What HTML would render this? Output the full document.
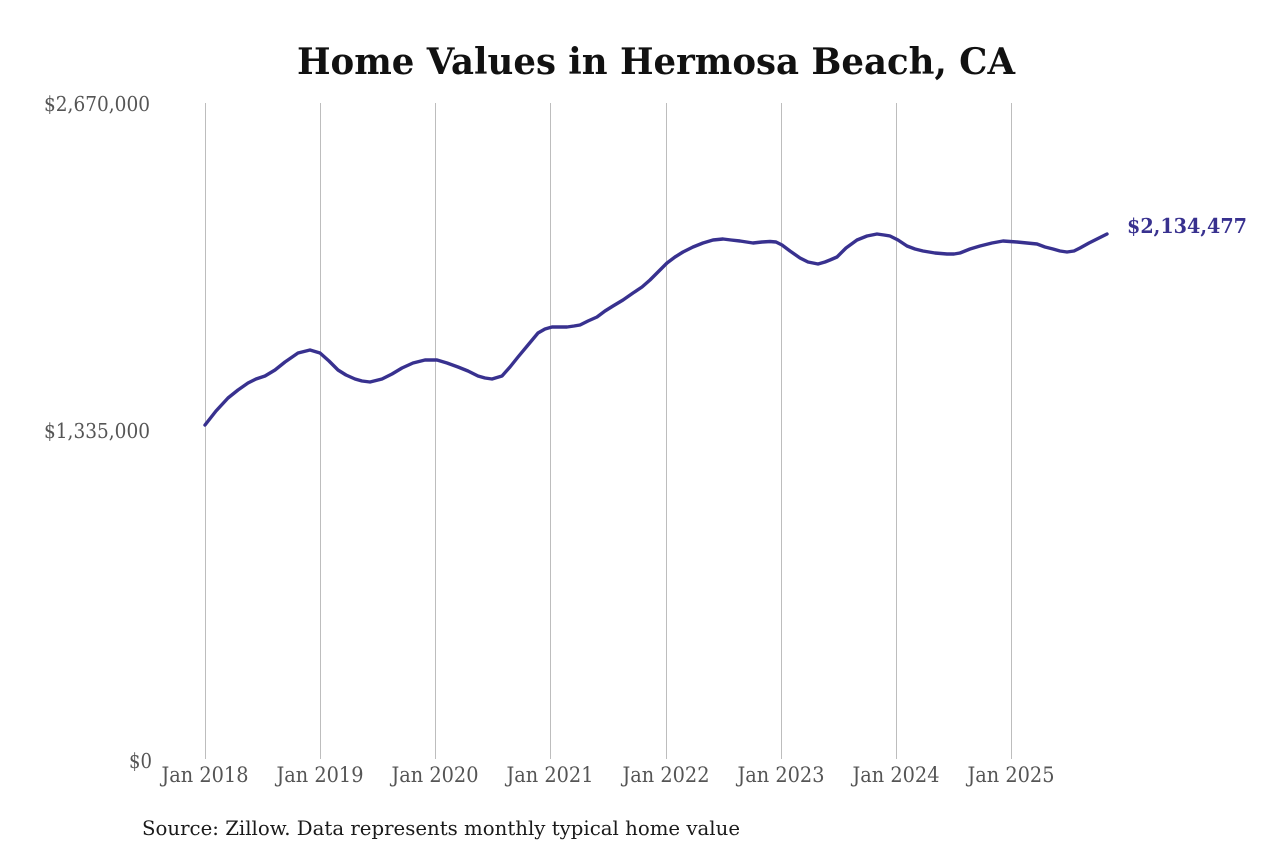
<!DOCTYPE html>
<html>
<head>
<meta charset="utf-8">
<style>
  html, body { margin:0; padding:0; background:#ffffff; }
  svg { display:block; }
</style>
</head>
<body>
<svg width="1280" height="853" viewBox="0 0 1280 853" xmlns="http://www.w3.org/2000/svg">
  <rect width="1280" height="853" fill="#ffffff"/>
  <!-- Title -->
  <text x="297" y="74" font-family="'DejaVu Serif', 'Liberation Serif', serif" font-weight="bold" font-size="36" fill="#111" textLength="718" lengthAdjust="spacingAndGlyphs">Home Values in Hermosa Beach, CA</text>

  <!-- vertical gridlines -->
  <g stroke="#bdbdbd" stroke-width="1">
    <line x1="205.5" y1="103" x2="205.5" y2="759"/>
    <line x1="320.5" y1="103" x2="320.5" y2="759"/>
    <line x1="435.5" y1="103" x2="435.5" y2="759"/>
    <line x1="550.5" y1="103" x2="550.5" y2="759"/>
    <line x1="666.5" y1="103" x2="666.5" y2="759"/>
    <line x1="781.5" y1="103" x2="781.5" y2="759"/>
    <line x1="896.5" y1="103" x2="896.5" y2="759"/>
    <line x1="1011.5" y1="103" x2="1011.5" y2="759"/>
  </g>

  <!-- y labels -->
  <g font-family="'DejaVu Serif', 'Liberation Serif', serif" font-size="20.5" fill="#555" text-anchor="end">
    <text x="150" y="111" textLength="106" lengthAdjust="spacingAndGlyphs">$2,670,000</text>
    <text x="150" y="438" textLength="106" lengthAdjust="spacingAndGlyphs">$1,335,000</text>
    <text x="152" y="768" textLength="23" lengthAdjust="spacingAndGlyphs">$0</text>
  </g>

  <!-- x labels -->
  <g font-family="'DejaVu Serif', 'Liberation Serif', serif" font-size="21" fill="#555" text-anchor="middle">
    <text x="205" y="782" textLength="87" lengthAdjust="spacingAndGlyphs">Jan 2018</text>
    <text x="320" y="782" textLength="87" lengthAdjust="spacingAndGlyphs">Jan 2019</text>
    <text x="435" y="782" textLength="87" lengthAdjust="spacingAndGlyphs">Jan 2020</text>
    <text x="550" y="782" textLength="87" lengthAdjust="spacingAndGlyphs">Jan 2021</text>
    <text x="666" y="782" textLength="87" lengthAdjust="spacingAndGlyphs">Jan 2022</text>
    <text x="781" y="782" textLength="87" lengthAdjust="spacingAndGlyphs">Jan 2023</text>
    <text x="896" y="782" textLength="87" lengthAdjust="spacingAndGlyphs">Jan 2024</text>
    <text x="1011" y="782" textLength="87" lengthAdjust="spacingAndGlyphs">Jan 2025</text>
  </g>

  <!-- series line -->
  <polyline fill="none" stroke="#38318f" stroke-width="3.4" stroke-linejoin="round" stroke-linecap="round"
    points="205,425 216,411 228,398 238,390 248,383 256,379 265,376 275,370 285,362 298,353 310,350 320,353 329,361 338,370 346,375 355,379 362,381 370,382 382,379 392,374 402,368 413,363 425,360 437,360 447,363 458,367 468,371 478,376 485,378 492,379 502,376 510,367 518,357 528,345 538,333 545,329 552,327 562,327 567,327 574,326 580,325 588,321 597,317 605,311 613,306 623,300 633,293 642,287 650,280 659,271 667,263 675,257 683,252 693,247 703,243 713,240 723,239 731,240 740,241 753,243 762,242 770,241.5 776,242 782,245 790,251 800,258 808,262 818,264 825,262 830,260 837,257 846,248 857,240 867,236 877,234 884,235 890,236 898,240 907,246 915,249 923,251 935,253 947,254 954,254 960,253 970,249 980,246 992,243 1003,241 1017,242 1027,243 1037,244 1045,247 1053,249 1060,251 1067,252 1074,251 1080,248 1089,243 1097,239 1107,234"/>

  <!-- end label -->
  <text x="1127" y="233" font-family="'DejaVu Serif', 'Liberation Serif', serif" font-weight="bold" font-size="20.5" fill="#38318f" textLength="120" lengthAdjust="spacingAndGlyphs">$2,134,477</text>

  <!-- source -->
  <text x="142" y="835" font-family="'DejaVu Serif', 'Liberation Serif', serif" font-size="20" fill="#1a1a1a" textLength="598" lengthAdjust="spacingAndGlyphs">Source: Zillow. Data represents monthly typical home value</text>
</svg>
</body>
</html>
